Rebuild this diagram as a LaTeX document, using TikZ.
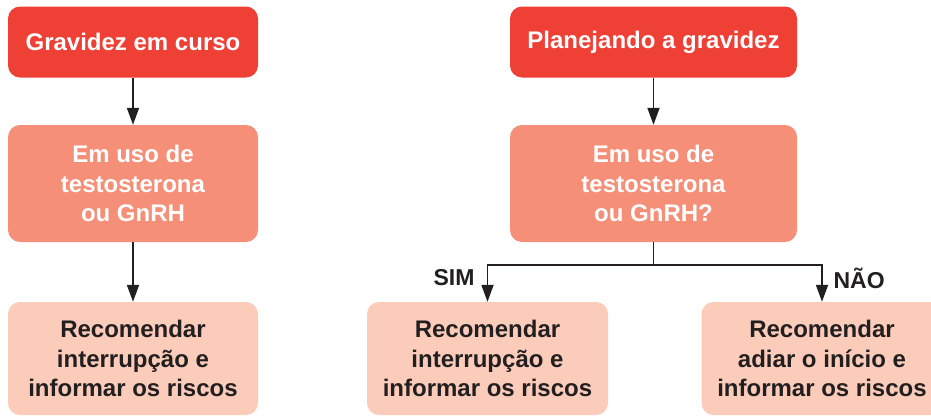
\documentclass[tikz,border=0pt]{standalone}
\usepackage{fontspec}
\setmainfont{Liberation Sans}
\usepackage{tikz}
\usetikzlibrary{arrows.meta}

\definecolor{boxred}{RGB}{239,64,54}
\definecolor{boxsalmon}{RGB}{245,143,120}
\definecolor{boxpeach}{RGB}{251,204,186}
\definecolor{inkdark}{RGB}{35,31,32}

\begin{document}
\begin{tikzpicture}[x=1pt,y=-1pt,
    box/.style={rounded corners=12pt,align=center,inner sep=0pt,
        font=\bfseries\fontsize{24}{29.5}\selectfont},
    redbox/.style={box,fill=boxred,text=white,minimum height=71pt},
    midbox/.style={box,fill=boxsalmon,text=white,minimum height=117pt},
    lowbox/.style={box,fill=boxpeach,text=inkdark,minimum height=113pt},
    arr/.style={line width=1.8pt,draw=inkdark,-{Triangle[width=12pt,length=17pt]}},
    tag/.style={text=inkdark,font=\bfseries\fontsize{23}{27}\selectfont}]
    \useasboundingbox (0,0) rectangle (931,416);

    % left column
    \node [redbox, minimum width=250pt] (pregnant) at (133,42) {Gravidez em curso};
    \node [midbox, minimum width=250pt] (usingA) at (133,183.5) {Em uso de\\testosterona\\ou GnRH};
    \node [lowbox, minimum width=250pt] (stopA) at (133,358.5) {Recomendar\\interrupção e\\informar os riscos};
    \draw [arr] (pregnant) -- (usingA);
    \draw [arr] (usingA) -- (stopA);

    % right column
    \node [redbox, minimum width=287pt] (planning) at (653.5,42) {Planejando a gravidez};
    \node [midbox, minimum width=287pt] (usingB) at (653.5,183.5) {Em uso de\\testosterona\\ou GnRH?};
    \node [lowbox, minimum width=241pt] (stopB) at (487.5,358.5) {Recomendar\\interrupção e\\informar os riscos};
    \node [lowbox, minimum width=241pt] (delay) at (822,358.5) {Recomendar\\adiar o início e\\informar os riscos};
    \draw [arr] (planning) -- (usingB);

    \coordinate (split) at (653.5,265);
    \draw [line width=1.8pt,draw=inkdark] (usingB.south) -- (split);
    \draw [arr] (split) -| (stopB.north);
    \draw [arr] (split) -| (delay.north);
    \node [tag, anchor=east] (yes) at (478,278) {SIM};
    \node [tag, anchor=west] (no) at (830,278) {NÃO};
\end{tikzpicture}
\end{document}
